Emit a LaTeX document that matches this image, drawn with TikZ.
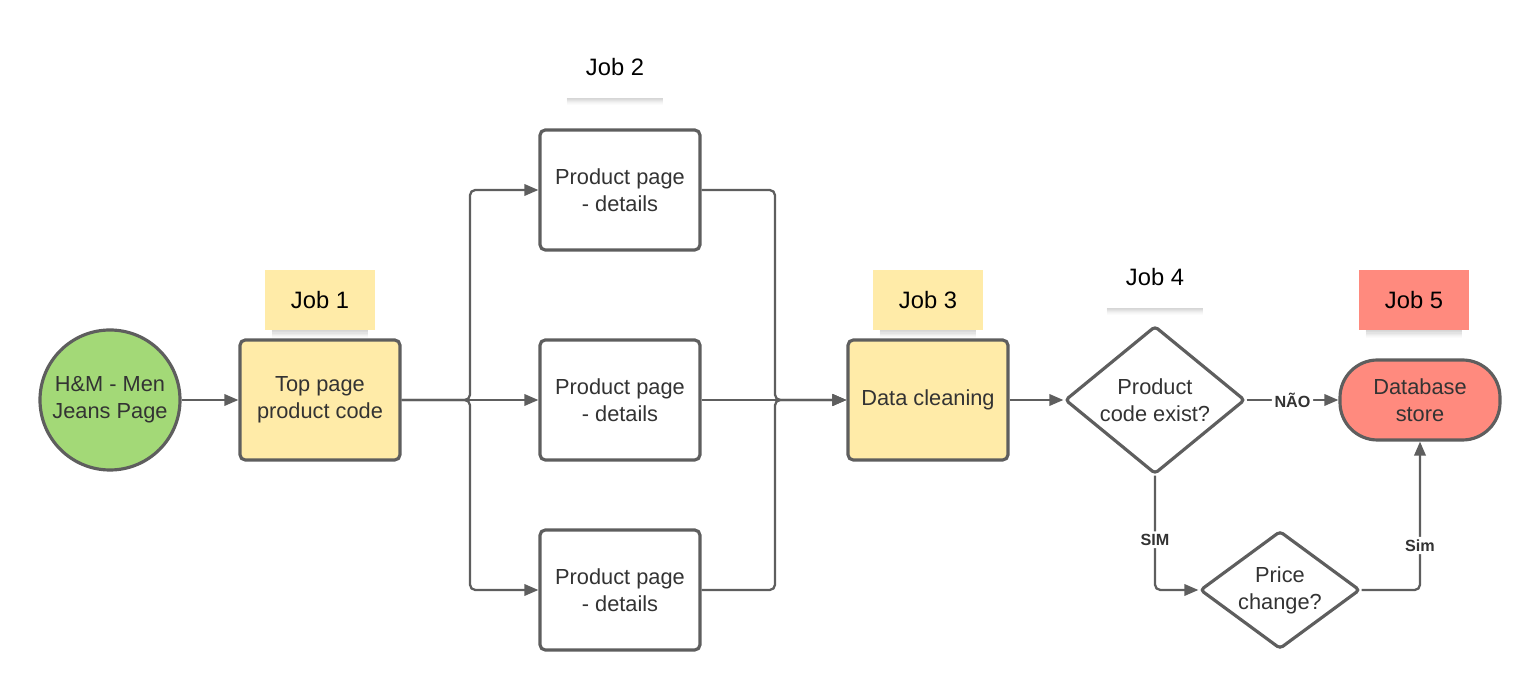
\documentclass[tikz,border=0pt]{standalone}
\usepackage{fontspec}
\setmainfont{Liberation Sans}
\usetikzlibrary{shapes.geometric, arrows.meta}

\definecolor{linegray}{HTML}{5E5E5E}
\definecolor{textgray}{HTML}{333333}
\definecolor{startgreen}{HTML}{A3D977}
\definecolor{jobyellow}{HTML}{FFEBA8}
\definecolor{jobred}{HTML}{FF8A7E}

\tikzset{
  basebox/.style={draw=linegray, line width=1.8pt, text=textgray, align=center,
    font=\fontsize{12.4}{15.3}\selectfont},
  startnode/.style={basebox, circle, fill=startgreen, minimum size=2.8cm, inner sep=0pt},
  jobbox/.style={basebox, rectangle, rounded corners=3pt, fill=jobyellow,
    minimum width=3.2cm, minimum height=2.4cm},
  pagebox/.style={jobbox, fill=white},
  decision/.style={basebox, diamond, rounded corners=2pt, fill=white, inner sep=0pt,
    aspect=1.22, minimum width=3.6cm, minimum height=2.96cm},
  storebox/.style={basebox, rectangle, rounded corners=0.75cm, fill=jobred,
    minimum width=3.2cm, minimum height=1.6cm},
  note/.style={rectangle, minimum width=2.2cm, minimum height=1.2cm, text=black,
    font=\fontsize{13.5}{16}\selectfont},
  flow/.style={draw=linegray, line width=1.3pt, rounded corners=3pt,
    -{Triangle[length=8pt, width=6.5pt]}},
  lbl/.style={fill=white, inner sep=1.5pt, text=textgray, font=\bfseries\fontsize{9.2}{11}\selectfont}
}

% soft shadow under a sticky note
\newcommand{\noteshadow}[1]{%
  \foreach \d/\op in {0.3/0.16, 0.9/0.14, 1.5/0.11, 2.1/0.08, 2.7/0.05, 3.3/0.03, 3.9/0.015}
    \draw[black, opacity=\op, line width=0.6pt]
      ([xshift=4pt, yshift=-\d pt]#1.south west) -- ([xshift=-4pt, yshift=-\d pt]#1.south east);}

\begin{document}
\begin{tikzpicture}[x=0.2mm, y=-0.2mm, node distance=2cm]
  \useasboundingbox (0,0) rectangle (1540,690);

  \node[startnode] (hm) at (110,400) {H\&M - Men\\Jeans Page};
  \node[jobbox] (top) at (320,400) {Top page\\product code};
  \node[pagebox] (pd1) at (620,190) {Product page\\- details};
  \node[pagebox] (pd2) at (620,400) {Product page\\- details};
  \node[pagebox] (pd3) at (620,590) {Product page\\- details};
  \node[jobbox] (clean) at (928,400) {Data cleaning};
  \node[decision] (exist) at (1155,400) {Product\\code exist?};
  \node[storebox] (db) at (1420,400) {Database\\store};
  \node[decision, aspect=1.36, minimum width=3.2cm, minimum height=2.36cm] (price) at (1280,590) {Price\\change?};

  \coordinate (split) at (470,400);
  \coordinate (merge) at (775,400);

  % job notes
  \node[note, fill=jobyellow, above of=top] (job1) {Job 1};
  \node[note, fill=white, above of=pd1, node distance=2.45cm, xshift=-0.1cm] (job2) {Job 2};
  \node[note, fill=jobyellow, above of=clean] (job3) {Job 3};
  \node[note, fill=white, above of=exist, node distance=2.45cm] (job4) {Job 4};
  \node[note, fill=jobred, above of=db, xshift=-0.12cm] (job5) {Job 5};
  \noteshadow{job1}
  \noteshadow{job2}
  \noteshadow{job3}
  \noteshadow{job4}
  \noteshadow{job5}

  \draw[flow] (hm) -- (top);
  \draw[flow] (top.east) -- (split) |- (pd1.west);
  \draw[flow] (top.east) -- (pd2.west);
  \draw[flow] (top.east) -- (split) |- (pd3.west);
  \draw[flow] (pd1.east) -| (merge) -- (clean.west);
  \draw[flow] (pd2.east) -- (clean.west);
  \draw[flow] (pd3.east) -| (merge) -- (clean.west);
  \draw[flow] (clean) -- (exist);
  \draw[flow] (exist.east) -- node[lbl] {NÃO} (db.west);
  \draw[flow] (exist.south) |- node[lbl, pos=0.28] {SIM} (price.west);
  \draw[flow] (price.east) -| node[lbl, pos=0.65] {Sim} (db.south);
\end{tikzpicture}
\end{document}
